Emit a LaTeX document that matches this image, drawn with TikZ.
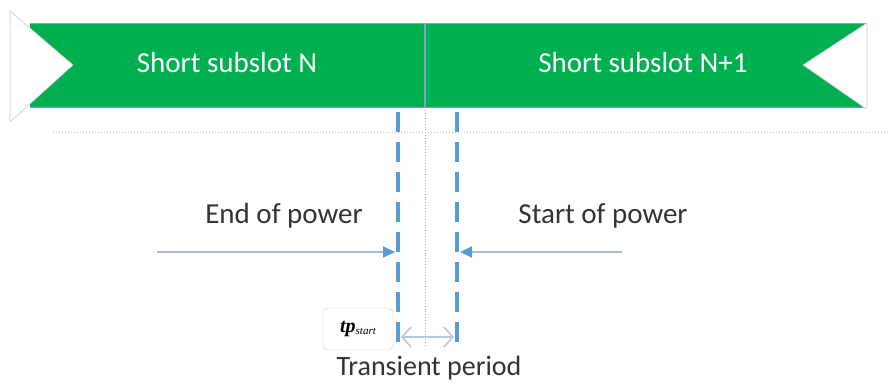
\documentclass[tikz,border=0pt]{standalone}
\usepackage{fontspec}
\setmainfont{Carlito}
\newfontfamily\tpfont{Liberation Serif}
\usetikzlibrary{arrows.meta,positioning}
\definecolor{slotgreen}{HTML}{00B050}
\definecolor{markblue}{HTML}{5B9BD5}
\definecolor{rimblue}{HTML}{7F9FCF}
\definecolor{shaftgray}{HTML}{A8BBD6}
\definecolor{spangray}{HTML}{B4C7E7}
\definecolor{inkgray}{HTML}{333333}

\begin{document}
\begin{tikzpicture}[x=1pt, y=-1pt,
        slotlabel/.style={text=white, font=\fontsize{29}{34}\selectfont, anchor=base},
        powerlabel/.style={text=inkgray, font=\fontsize{29}{34}\selectfont, anchor=base},
        markline/.style={markblue, line width=4pt, dash pattern=on 20pt off 10pt},
        powerarrow/.style={shaftgray, line width=1.8pt, -{Triangle[length=12pt, width=11pt, color=markblue]}},
        spanarrow/.style={spangray, line width=1.6pt, {Straight Barb[length=9pt, width=20pt]}-{Straight Barb[length=9pt, width=20pt]}},
        tpbox/.style={draw=gray!45, rounded corners=5pt, minimum width=70pt, minimum height=42pt, inner sep=0pt}]
        \useasboundingbox (0,0) rectangle (888,387);
        % banner
        \fill[slotgreen] (30,23) rectangle (867,107);
        \draw[rimblue, line width=0.8pt] (30,23) -- (867,23) (30,107) -- (867,107);
        \filldraw[fill=white, draw=gray!40, line width=0.6pt] (10,11) -- (73,65) -- (10,122) -- cycle;
        \filldraw[fill=white, draw=gray!40, line width=0.6pt] (867,23) -- (803,65) -- (865,108) -- (867,108) -- cycle;
        \node[slotlabel] (slotn) at (227,73) {Short subslot N};
        \node[slotlabel] (slotnext) at (643,73) {Short subslot N+1};
        % boundary and marks
        \coordinate (midtop) at (425,23);
        \coordinate (midbot) at (425,107);
        \coordinate (midend) at (425,347);
        \draw[rimblue, line width=1.5pt] (midtop) -- (midbot);
        \draw[gray!70, dotted, line width=0.8pt] (midbot) -- (midend);
        \draw[gray!50, dotted, line width=1pt] (53,133) -- (888,133);
        \coordinate (endtop) at (398,112);
        \coordinate (endbot) at (398,347);
        \coordinate (starttop) at (457,112);
        \coordinate (startbot) at (457,347);
        \draw[markline] (endtop) -- (endbot);
        \draw[markline] (starttop) -- (startbot);
        % power arrows
        \node[powerlabel] (endlabel) at (284,224) {End of power};
        \node[powerlabel] (startlabel) at (603,224) {Start of power};
        \coordinate (endfree) at (157,252);
        \coordinate (endtip) at (395,252);
        \coordinate (startfree) at (622,252);
        \coordinate (starttip) at (460,252);
        \draw[powerarrow] (endfree) -- (endtip);
        \draw[powerarrow] (startfree) -- (starttip);
        % transient period
        \coordinate (spanleft) at (401,337);
        \coordinate (spanright) at (454,337);
        \draw[spanarrow] (spanleft) -- (spanright);
        \node[tpbox] (tp) at (358,329) {\tpfont\fontsize{20}{20}\selectfont\bfseries\itshape tp\raisebox{-2pt}{\fontsize{11}{11}\selectfont\mdseries start}};
        \node[powerlabel, font=\fontsize{28}{32}\selectfont] (transient) at (429,375) {Transient period};
\end{tikzpicture}
\end{document}
